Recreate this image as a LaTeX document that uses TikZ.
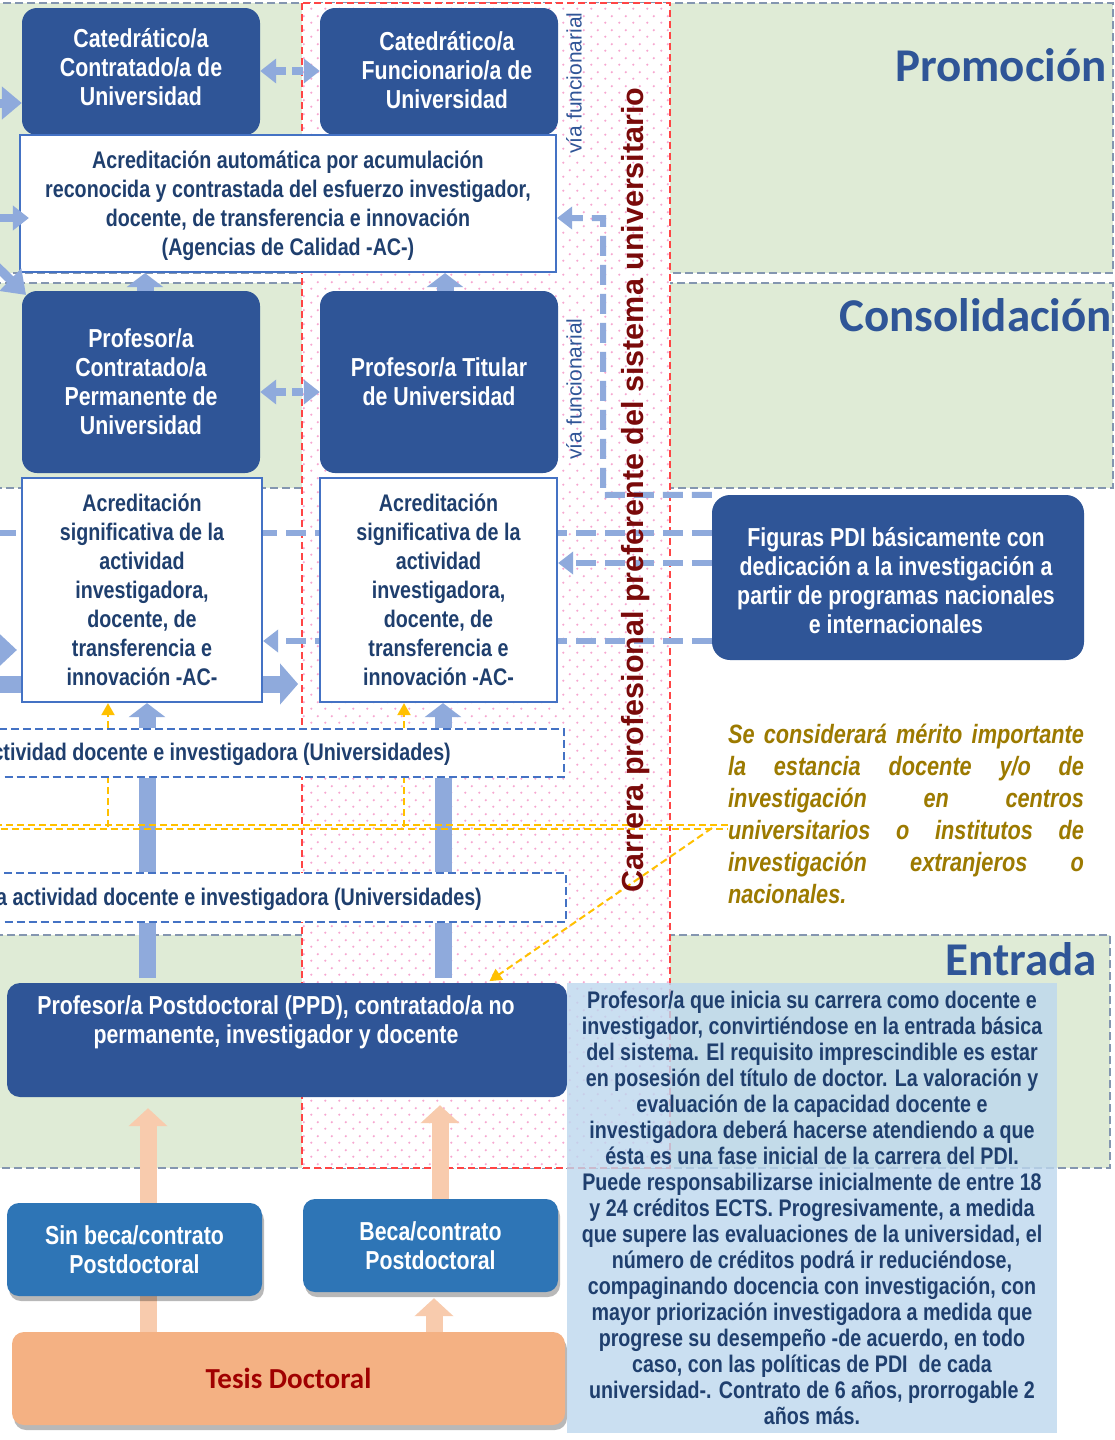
\documentclass[tikz,border=0pt]{standalone}
\usepackage{fontspec}
\setmainfont{Liberation Sans}
\newfontfamily\nb{Liberation Sans}[FakeStretch=0.82]
\newfontfamily\carl{Carlito}
\usetikzlibrary{arrows.meta,shadows,patterns}
\definecolor{dblue}{HTML}{2F5597}
\definecolor{lblue}{HTML}{8FAADC}
\definecolor{bborder}{HTML}{4472C4}
\definecolor{tblue}{HTML}{1F3F6E}
\definecolor{mblue}{HTML}{2E75B6}
\definecolor{bandgreen}{HTML}{DFEBD6}
\definecolor{grayd}{HTML}{8496B0}
\definecolor{redd}{HTML}{FF4545}
\definecolor{pinkdot}{HTML}{F7A6D0}
\definecolor{gold}{HTML}{FFC000}
\definecolor{goldtext}{HTML}{9C7A00}
\definecolor{orangebox}{HTML}{F4B183}
\definecolor{peach}{HTML}{F8CBAD}
\definecolor{maroonc}{HTML}{7A0A0A}
\definecolor{tesisred}{HTML}{A00000}
\definecolor{descblue}{HTML}{BDD7EE}
\pgfdeclarepatternformonly{pinkdots}{\pgfpointorigin}{\pgfpoint{14pt}{14pt}}{\pgfpoint{14pt}{14pt}}{%
  \pgfpathcircle{\pgfpoint{3.5pt}{3.5pt}}{1.3pt}%
  \pgfpathcircle{\pgfpoint{10.5pt}{10.5pt}}{1.3pt}%
  \pgfusepath{fill}}
\pgfdeclarelayer{bg}
\pgfdeclarelayer{conn}
\pgfsetlayers{bg,conn,main}
\newcommand\jline[1]{\leavevmode\hbox to 356pt{#1}}
\begin{document}
\begin{tikzpicture}[x=1pt,y=-1pt,
  darkbox/.style={fill=dblue, draw=none, rounded corners=15pt, inner sep=0pt, text=white, align=center, font=\nb\bfseries\fontsize{26}{29}\selectfont},
  acrbox/.style={fill=white, draw=bborder, line width=2.2pt, inner sep=0pt, text=tblue, align=center, font=\nb\bfseries\fontsize{24}{29}\selectfont},
  evalbox/.style={fill=white, draw=bborder, line width=2pt, dash pattern=on 8pt off 4pt, inner sep=0pt},
  evaltext/.style={text=tblue, inner sep=0pt, font=\nb\bfseries\fontsize{24}{29}\selectfont},
  medbox/.style={fill=mblue, rounded corners=12pt, inner sep=0pt, text=white, align=center, font=\nb\bfseries\fontsize{26}{29}\selectfont, drop shadow={shadow xshift=2pt, shadow yshift=-5pt, fill=black, opacity=0.28}},
  band/.style={fill=bandgreen, draw=grayd, line width=2pt, dash pattern=on 8pt off 4pt},
  ldash/.style={draw=lblue, line width=6pt, dash pattern=on 20pt off 9pt},
  ltip/.style={-{Triangle[width=22pt,length=15pt]}},
  lbar/.style={draw=lblue, line width=17pt},
  ltiparrow/.style={lbar, -{Triangle[width=36pt,length=14pt]}},
  golddash/.style={draw=gold, line width=2pt, dash pattern=on 7pt off 4pt},
  goldtip/.style={-{Triangle[width=13pt,length=12pt]}},
  pbar/.style={draw=peach, line width=17pt},
  ptip/.style={pbar, -{Triangle[width=38pt,length=18pt]}},
  heading/.style={anchor=east, text=dblue, inner sep=0pt, font=\carl\bfseries\fontsize{47}{52}\selectfont},
  via/.style={rotate=90, text=dblue, inner sep=0pt, font=\fontsize{21}{25}\selectfont},
]
\useasboundingbox (0,0) rectangle (1115,1440);
\clip (0,0) rectangle (1115,1440);

% ---------- nodes ----------
\node[darkbox, minimum width=238pt, minimum height=127pt] (catC) at (141,71.5) {};
\node[darkbox, fill=none] (catCt) at (141,67.5) {Catedrático/a\\Contratado/a de\\Universidad};
\node[darkbox, minimum width=238pt, minimum height=127pt] (catF) at (439,71.5) {};
\node[darkbox, fill=none] (catFt) at (447,70) {Catedrático/a\\Funcionario/a de\\Universidad};
\node[acrbox, minimum width=536pt, minimum height=137pt] (acrA) at (288,203.5) {};
\node[acrbox, draw=none, fill=none] (acrAt) at (288,206) {Acreditación automática por acumulación\\reconocida y contrastada del esfuerzo investigador,\\docente, de transferencia e innovación\\(Agencias de Calidad -AC-)};
\node[darkbox, minimum width=238pt, minimum height=182pt] (profC) at (141,382) {Profesor/a\\Contratado/a\\Permanente de\\Universidad};
\node[darkbox, minimum width=238pt, minimum height=182pt] (profT) at (439,382) {Profesor/a Titular\\de Universidad};
\node[acrbox, minimum width=240pt, minimum height=224pt] (acrL) at (142,590) {Acreditación\\significativa de la\\actividad\\investigadora,\\docente, de\\transferencia e\\innovación -AC-};
\node[acrbox, minimum width=237pt, minimum height=224pt] (acrR) at (438.5,590) {Acreditación\\significativa de la\\actividad\\investigadora,\\docente, de\\transferencia e\\innovación -AC-};
\node[evalbox, minimum width=583pt, minimum height=48pt] (eval1) at (272,753) {};
\node[evaltext, anchor=east] (eval1t) at (451,754) {ctividad docente e investigadora (Universidades)};
\node[evalbox, minimum width=585pt, minimum height=49pt] (eval2) at (273,897.5) {};
\node[evaltext, anchor=east] (eval2t) at (482,899) {a actividad docente e investigadora (Universidades)};
\node[darkbox, rounded corners=13pt, minimum width=560pt, minimum height=114pt] (ppd) at (287,1040) {};
\node[darkbox, fill=none] (ppdt) at (276,1022) {Profesor/a Postdoctoral (PPD), contratado/a no\\permanente, investigador y docente};
\node[darkbox, rounded corners=18pt, minimum width=372pt, minimum height=165pt] (fig) at (898,577.5) {};
\node[darkbox, fill=none] (figt) at (896,581) {Figuras PDI básicamente con\\dedicación a la investigación a\\partir de programas nacionales\\e internacionales};
\node[text=goldtext, inner sep=0pt, text width=356pt, align=left, font=\nb\bfseries\itshape\fontsize{26.5}{32}\selectfont] (merit) at (906,814) {%
\jline{Se\hfill considerará\hfill mérito\hfill importante}\\
\jline{la\hfill estancia\hfill docente\hfill y/o\hfill de}\\
\jline{investigación\hfill en\hfill centros}\\
\jline{universitarios\hfill o\hfill institutos\hfill de}\\
\jline{investigación\hfill extranjeros\hfill o}\\
nacionales.};
\node[medbox, minimum width=255pt, minimum height=93pt] (sinb) at (134.5,1249.5) {Sin beca/contrato\\Postdoctoral};
\node[medbox, minimum width=255pt, minimum height=93pt] (beca) at (430.5,1245.5) {Beca/contrato\\Postdoctoral};
\node[medbox, fill=orangebox, minimum width=553pt, minimum height=93pt, text=tesisred, font=\carl\bfseries\fontsize{29}{34}\selectfont] (tesis) at (288.5,1378.5) {Tesis Doctoral};

% helper coordinates
\coordinate (h71) at (0,71);
\coordinate (h392) at (0,392);
\coordinate (h533) at (0,533);
\coordinate (h563) at (0,563);
\coordinate (h641) at (0,641);
\coordinate (v145) at (145,0);
\coordinate (v147) at (147,0);
\coordinate (v445) at (445,0);
\coordinate (v443) at (443,0);
\coordinate (v148) at (148,0);
\coordinate (v434) at (434,0);
\coordinate (v440) at (440,0);
\coordinate (v487) at (487,0);
\coordinate (e1) at (-30,103);
\coordinate (e2) at (-20,218);
\coordinate (e3) at (-12,258);
\coordinate (e5) at (-30,650);
\coordinate (e6) at (-20,684);
\coordinate (e7) at (-20,533);
\coordinate (k1) at (603,495);
\coordinate (k2) at (603,218);
\coordinate (g0) at (-5,827);
\coordinate (gv1) at (108,827);
\coordinate (gv2) at (404,827);
\coordinate (gd) at (712,828);

% ---------- background ----------
\begin{pgfonlayer}{bg}
\clip (0,0) rectangle (1115,1440);
\fill[white] (0,0) rectangle (1115,1440);
\draw[band] (-5,3) rectangle (1113,273);
\draw[band] (-5,283) rectangle (1113,488);
\draw[band] (-5,935) rectangle (1110,1168);
\fill[white] (302,3) rectangle (670,1168);
\fill[pattern=pinkdots, pattern color=pinkdot] (302,3) rectangle (670,1168);
\draw[redd, line width=1.8pt, dash pattern=on 7pt off 4pt] (302,3) rectangle (670,1168);
\end{pgfonlayer}

% ---------- connectors ----------
\begin{pgfonlayer}{conn}
\clip (0,0) rectangle (1115,1440);
% light blue dashed links
\draw[ldash] (fig.west |- h533) -- (e7);
\draw[ldash, ltip] (fig.west |- h563) -- (acrR.east |- h563);
\draw[ldash, ltip] (fig.west |- h641) -- (acrL.east |- h641);
\draw[ldash, ltip] (fig.north west) -- (k1) -- (k2) -- (acrA.east |- k2);
% left-edge arrows
\draw[draw=lblue, line width=9pt, -{Triangle[width=32pt,length=20pt]}] (e1) -- (catC.west |- e1);
\draw[draw=lblue, line width=12pt, -{Triangle[width=36pt,length=20pt]}, shorten >=4pt] (e5) -- (acrL.west |- e5);
\draw[lbar, -{Triangle[width=40pt,length=18pt]}, shorten >=-35pt] (e6) -- (acrL.east |- e6);
% thick vertical arrows
\draw[lbar, shorten <=5pt] (ppd.north -| v147) -- (eval2.south -| v147);
\draw[lbar] (eval2.north -| v147) -- (eval1.south -| v147);
\draw[ltiparrow] (eval1.north -| v147) -- (acrL.south -| v147);
\draw[ltiparrow] (profC.north -| v145) -- (acrA.south -| v145);
\draw[lbar, shorten <=5pt] (ppd.north -| v443) -- (eval2.south -| v443);
\draw[lbar] (eval2.north -| v443) -- (eval1.south -| v443);
\draw[ltiparrow] (eval1.north -| v443) -- (acrR.south -| v443);
\draw[ltiparrow] (profT.north -| v445) -- (acrA.south -| v445);
% peach arrows
\draw[pbar] (tesis.north -| v148) -- (sinb.south -| v148);
\draw[ptip, shorten >=11pt] (sinb.north -| v148) -- (ppd.south -| v148);
\draw[ptip, shorten >=6pt] (tesis.north -| v434) -- (beca.south -| v434);
\draw[ptip, shorten >=8pt] (beca.north -| v440) -- (ppd.south -| v440);
% gold lines
\draw[golddash] ([yshift=2pt]g0) -- ([yshift=2pt]merit.west |- g0);
\draw[golddash, dash phase=5pt] ([yshift=-2pt]g0) -- ([yshift=-2pt]merit.west |- g0);
\draw[golddash, goldtip] (gv1) -- (acrL.south -| gv1);
\draw[golddash, goldtip] (gv2) -- (acrR.south -| gv2);
\draw[golddash, goldtip, shorten >=3pt] (gd) -- (ppd.north -| v487);
\end{pgfonlayer}

% ---------- arrows over boxes ----------
\draw[draw=lblue, line width=8pt, {Triangle[width=24pt,length=16pt]}-{Triangle[width=24pt,length=16pt]}, dash pattern=on 11pt off 6pt] (catC.east |- h71) -- (catF.west |- h71);
\draw[draw=lblue, line width=8pt, {Triangle[width=24pt,length=16pt]}-{Triangle[width=24pt,length=16pt]}, dash pattern=on 11pt off 6pt] (profC.east |- h392) -- (profT.west |- h392);
\draw[draw=lblue, line width=8pt, -{Triangle[width=24pt,length=16pt]}, shorten >=-10pt] (e2) -- (acrA.west |- e2);
\draw[draw=lblue, line width=9pt, -{Triangle[width=30pt,length=22pt]}, shorten >=-6pt] (e3) -- (profC.north west);

% ---------- description ----------
\node[fill=descblue, fill opacity=0.8, text opacity=1, inner sep=0pt, minimum width=490pt, minimum height=450pt, text=tblue, align=center, font=\nb\bfseries\fontsize{24}{26}\selectfont] (desc) at (812,1208) {Profesor/a que inicia su carrera como docente e\\investigador, convirtiéndose en la entrada básica\\del sistema. El requisito imprescindible es estar\\en posesión del título de doctor. La valoración y\\evaluación de la capacidad docente e\\investigadora deberá hacerse atendiendo a que\\ésta es una fase inicial de la carrera del PDI.\\Puede responsabilizarse inicialmente de entre 18\\y 24 créditos ECTS. Progresivamente, a medida\\que supere las evaluaciones de la universidad, el\\número de créditos podrá ir reduciéndose,\\compaginando docencia con investigación, con\\mayor priorización investigadora a medida que\\progrese su desempeño -de acuerdo, en todo\\caso, con las políticas de PDI\ \ de cada\\universidad-. Contrato de 6 años, prorrogable 2\\años más.};

% ---------- labels ----------
\node[heading] (hprom) at (1107,65) {Promoción};
\node[heading] (hcons) at (1112,315) {Consolidación};
\node[heading] (hentr) at (1097,959) {Entrada};
\node[via] (via1) at (574,83) {vía funcionarial};
\node[via] (via2) at (574,389) {vía funcionarial};
\node[rotate=90, text=maroonc, inner sep=0pt, font=\bfseries\fontsize{30.5}{36}\selectfont] (title) at (636,490) {Carrera profesional preferente del sistema universitario};
\end{tikzpicture}
\end{document}
